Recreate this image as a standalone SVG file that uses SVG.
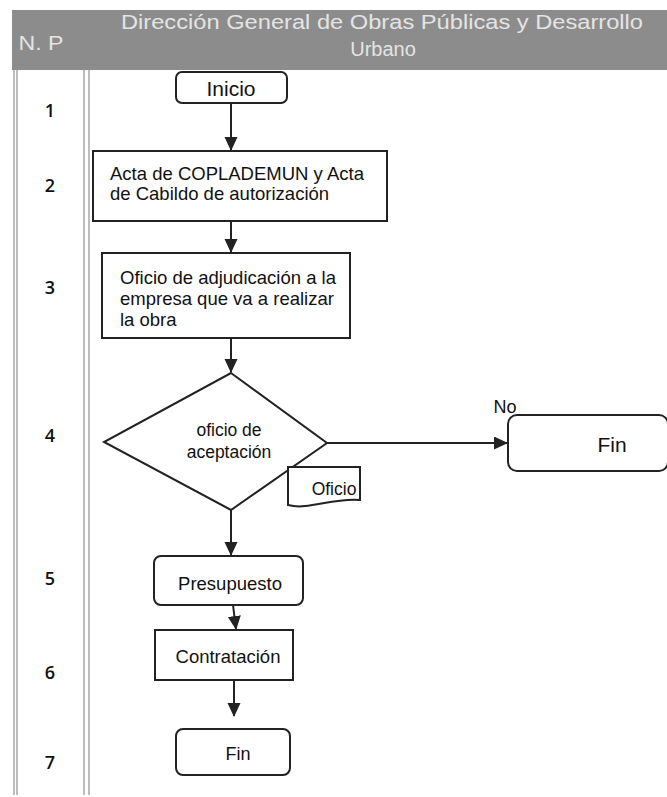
<svg xmlns="http://www.w3.org/2000/svg" width="667" height="797" viewBox="0 0 667 797">
<defs>
<marker id="ah" markerWidth="14" markerHeight="14" refX="13" refY="6.5" orient="auto" markerUnits="userSpaceOnUse">
<path d="M0,0 L14,6.5 L0,13 Z" fill="#222"/>
</marker>
<style>
.t{font-family:"Liberation Sans",Arial,sans-serif;fill:#111;}
.n{font-family:"Open Sans","Liberation Sans",sans-serif;font-size:18px;font-weight:600;fill:#111;text-anchor:middle;}
.h{font-family:"Liberation Sans",Arial,sans-serif;font-size:20px;fill:#e4e4e4;text-anchor:middle;}
.box{fill:#fff;stroke:#222;stroke-width:2;}
.c{stroke:#222;stroke-width:2;fill:none;marker-end:url(#ah);}
.grid{stroke:#bdbdbd;stroke-width:2;fill:none;}
</style>
</defs>
<rect width="667" height="797" fill="#fff"/>
<g id="table">
<rect x="12" y="10" width="655" height="60" fill="#8c8c8c"/>
<line class="grid" x1="14" y1="70" x2="14" y2="795"/>
<line class="grid" x1="17" y1="70" x2="17" y2="795"/>
<line class="grid" x1="84" y1="70" x2="84" y2="795"/>
<line class="grid" x1="89" y1="70" x2="89" y2="795"/>
<text class="h" x="41" y="50" textLength="45" lengthAdjust="spacingAndGlyphs">N. P</text>
<text class="h" x="382" y="29" textLength="522" lengthAdjust="spacingAndGlyphs">Dirección General de Obras Públicas y Desarrollo</text>
<text class="h" x="383" y="56">Urbano</text>
<text class="n" x="50" y="117">1</text>
<text class="n" x="50" y="192">2</text>
<text class="n" x="50" y="294">3</text>
<text class="n" x="50" y="442">4</text>
<text class="n" x="50" y="585">5</text>
<text class="n" x="50" y="679">6</text>
<text class="n" x="50" y="769">7</text>
</g>
<g id="connectors">
<line class="c" x1="231" y1="103" x2="231" y2="150"/>
<line class="c" x1="231" y1="221" x2="231" y2="252"/>
<line class="c" x1="231" y1="338" x2="231" y2="372"/>
<line class="c" x1="327" y1="443" x2="507" y2="443"/>
<line class="c" x1="231" y1="510" x2="231" y2="555"/>
<line class="c" x1="233" y1="605" x2="236" y2="629"/>
<line class="c" x1="234" y1="680" x2="234" y2="716"/>
</g>
<g id="inicio">
<rect class="box" x="176" y="72" width="111" height="31" rx="6"/>
<text class="t" x="231" y="96" font-size="21" text-anchor="middle">Inicio</text>
</g>
<g id="acta">
<rect class="box" x="93" y="151" width="294" height="70"/>
<text class="t" x="110" y="180" font-size="18.5">Acta de COPLADEMUN y Acta</text>
<text class="t" x="110" y="200" font-size="18.5">de Cabildo de autorización</text>
</g>
<g id="oficio-adj">
<rect class="box" x="102" y="253" width="248" height="85"/>
<text class="t" x="120" y="284" font-size="18.5">Oficio de adjudicación a la</text>
<text class="t" x="120" y="305" font-size="18.5">empresa que va a realizar</text>
<text class="t" x="120" y="326" font-size="18.5">la obra</text>
</g>
<g id="decision">
<polygon class="box" points="231,373 327,443 231,510 104,442"/>
<text class="t" x="229" y="436" font-size="17.5" text-anchor="middle">oficio de</text>
<text class="t" x="229" y="458" font-size="17.5" text-anchor="middle">aceptación</text>
</g>
<g id="no-label">
<text class="t" x="505" y="413" font-size="18" text-anchor="middle">No</text>
</g>
<g id="fin-no">
<rect class="box" x="508" y="415" width="160" height="56" rx="9"/>
<text class="t" x="612" y="452" font-size="21" text-anchor="middle">Fin</text>
</g>
<g id="oficio-doc">
<path class="box" d="M288,467 L360,467 L360,500 C340,498 320,505 305,506 C298,507 292,506 288,505 Z" stroke-width="1.5"/>
<text class="t" x="334" y="495" font-size="17.5" text-anchor="middle">Oficio</text>
</g>
<g id="presupuesto">
<rect class="box" x="154" y="556" width="149" height="49" rx="7"/>
<text class="t" x="230" y="590" font-size="18.5" text-anchor="middle">Presupuesto</text>
</g>
<g id="contratacion">
<rect class="box" x="155" y="630" width="138" height="50"/>
<text class="t" x="228" y="663" font-size="18.5" text-anchor="middle">Contratación</text>
</g>
<g id="fin">
<rect class="box" x="176" y="729" width="114" height="46" rx="7"/>
<text class="t" x="238" y="760" font-size="18" text-anchor="middle">Fin</text>
</g>
</svg>
